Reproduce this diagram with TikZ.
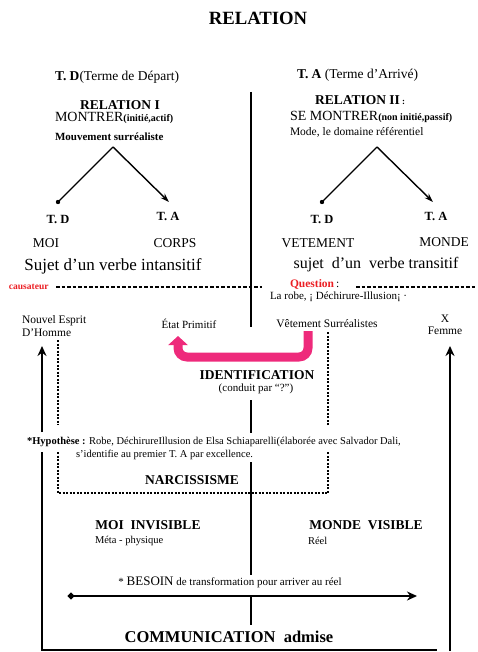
\documentclass[tikz,border=0pt]{standalone}
\usepackage{fontspec}
\setmainfont{Liberation Serif}
\usetikzlibrary{arrows.meta}
\definecolor{hotpink}{RGB}{238,42,123}
\definecolor{redtxt}{RGB}{235,30,35}
\newcommand\fsz[1]{\fontsize{#1}{#1}\selectfont}
\begin{document}
\begin{tikzpicture}[x=1pt,y=-1pt,
  txt/.style={inner sep=0pt,outer sep=0pt},
  lt/.style={txt,anchor=west},
  midline/.style={line width=1.8pt},
  treeline/.style={line width=1.4pt},
  frame/.style={line width=2.8pt},
  dotbox/.style={line width=1.1pt,dash pattern=on 2pt off 1.5pt},
  sepline/.style={line width=1.1pt,dash pattern=on 3.5pt off 2pt},
  pinkarrow/.style={hotpink,line width=9pt,rounded corners=9pt,-{Triangle[length=9pt,width=19pt]}}
]
\useasboundingbox (0,0) rectangle (477,652);

% title and headings
\node[txt,font=\fsz{18.7}\bfseries] (title) at (258,18) {RELATION};
\node[lt,font=\fsz{13.5}] (tdhead) at (55,77) {\textbf{T. D}(Terme de Départ)};
\node[lt,font=\fsz{13.5}] (tahead) at (297,75) {\textbf{T. A} (Terme d’Arrivé)};
\node[txt,font=\fsz{13.5}\bfseries] (rel1) at (120,105) {RELATION I};
\node[lt,font=\fsz{13.5}\bfseries] (rel2) at (315,100) {RELATION II\,{\fsz{9}:}};
\node[lt,font=\fsz{14}] (montrer) at (55,118) {MONTRER{\bfseries\fsz{10}(initié,actif)}};
\node[lt,font=\fsz{14}] (semontrer) at (290,117) {SE MONTRER{\bfseries\fsz{10}(non initié,passif)}};
\node[lt,font=\fsz{11}\bfseries] (mouv) at (55,137) {Mouvement surréaliste};
\node[lt,font=\fsz{11.5}] (mode) at (290,132) {Mode, le domaine référentiel};

% trees
\coordinate (LA) at (113,147);
\coordinate (LD) at (58,202);
\coordinate (LT) at (169,202);
\coordinate (RA) at (377,147);
\coordinate (RD) at (322,202);
\coordinate (RT) at (433,202);
\draw[treeline] (LA) -- (LD);
\draw[treeline,-{Stealth[length=9pt,width=6pt]}] (LA) -- (LT);
\fill (LD) circle (2.2);
\draw[treeline] (RA) -- (RD);
\draw[treeline,-{Stealth[length=9pt,width=6pt]}] (RA) -- (RT);
\fill (RD) circle (2.2);

\node[txt,font=\fsz{12.5}\bfseries] (ltd) at (58,219) {T. D};
\node[txt,font=\fsz{12.5}\bfseries] (lta) at (168,216) {T. A};
\node[txt,font=\fsz{12.5}\bfseries] (rtd) at (322,219) {T. D};
\node[txt,font=\fsz{12.5}\bfseries] (rta) at (436,216) {T. A};
\node[txt,font=\fsz{13.5}] (moi) at (46,243) {MOI};
\node[txt,font=\fsz{13.5}] (corps) at (175,243) {CORPS};
\node[txt,font=\fsz{13.5}] (vet) at (318,243) {VETEMENT};
\node[txt,font=\fsz{13.5}] (monde) at (444,242) {MONDE};
\node[txt,font=\fsz{17}] (suj1) at (113,266) {Sujet d’un verbe intansitif};
\node[txt,font=\fsz{16}] (suj2) at (376,265) {sujet\ \ d’un\ \ verbe transitif};

% separator line
\node[lt,font=\fsz{9.5}\bfseries,text=redtxt] (caus) at (9,287) {causateur};
\node[lt,font=\fsz{11.5}] (quest) at (290,284) {\textcolor{redtxt}{\bfseries Question}\,:};
\coordinate (s1a) at (56,287);
\coordinate (s1b) at (262,287);
\coordinate (s2a) at (356,287);
\coordinate (s2b) at (476,287);
\draw[sepline] (s1a) -- (s1b);
\draw[sepline] (s2a) -- (s2b);
\node[lt,font=\fsz{11}] (robe) at (270,297) {La robe, ¡ Déchirure-Illusion¡ ·};

% center line
\coordinate (c1) at (251,92);
\coordinate (c2) at (251,327);
\coordinate (c3) at (251,400);
\coordinate (c4) at (251,433);
\coordinate (c5) at (251,462);
\coordinate (c6) at (251,575);
\coordinate (c7) at (251,596);
\coordinate (c8) at (251,625);
\draw[midline] (c1) -- (c2);
\draw[midline] (c3) -- (c4);
\draw[midline] (c5) -- (c6);
\draw[midline] (c7) -- (c8);

% middle labels
\node[lt,font=\fsz{11.5},align=left] (nouvel) at (22,326) {Nouvel Esprit\\[1pt]D’Homme};
\node[txt,font=\fsz{11}] (etat) at (189,324) {État Primitif};
\node[txt,font=\fsz{11.5}] (vetsur) at (327,324) {Vêtement Surréalistes};
\node[txt,font=\fsz{11.5},align=center] (xfem) at (445,325) {X\\[1pt]Femme};

% pink arrow
\coordinate (p1) at (308,331);
\coordinate (p2) at (308,357);
\coordinate (p3) at (178,357);
\coordinate (p4) at (178,336);
\draw[pinkarrow] (p1) -- (p2) -- (p3) -- (p4);

\node[txt,font=\fsz{13.5}\bfseries] (ident) at (257,375) {IDENTIFICATION};
\node[txt,font=\fsz{11}] (cond) at (256,389) {(conduit par “?”)};

% dotted box
\coordinate (b1) at (58,340);
\coordinate (b2) at (58,425);
\coordinate (b3) at (58,452);
\coordinate (b4) at (58,493);
\coordinate (b5) at (328,493);
\coordinate (b6) at (328,452);
\coordinate (b7) at (328,425);
\coordinate (b8) at (328,331);
\draw[dotbox] (b1) -- (b2);
\draw[dotbox] (b3) -- (b4) -- (b5) -- (b6);
\draw[dotbox] (b7) -- (b8);

\node[lt,font=\fsz{10.5}] (hyp1) at (27,442) {\textbf{*Hypothèse :} Robe, DéchirureIllusion de Elsa Schiaparelli(élaborée avec Salvador Dali,};
\node[lt,font=\fsz{10.5}] (hyp2) at (76,455) {s’identifie au premier T. A par excellence.};
\node[txt,font=\fsz{13.5}\bfseries] (narc) at (192,480) {NARCISSISME};

% frame arrows
\coordinate (f1) at (42,432);
\coordinate (f2) at (42,346);
\coordinate (f3) at (42,452);
\coordinate (f4) at (42,650);
\coordinate (f5) at (437,650);
\coordinate (f6) at (450,651);
\coordinate (f7) at (450,346);
\draw[frame,-{Stealth[length=10pt,width=9pt]}] (f1) -- (f2);
\draw[frame] (f3) -- (f4) -- (f5);
\draw[frame,-{Stealth[length=10pt,width=9pt]}] (f6) -- (f7);

% lower part
\node[txt,font=\fsz{13.5}\bfseries] (moiinv) at (148,525) {MOI\ \ INVISIBLE};
\node[lt,font=\fsz{10.5}] (meta) at (95,541) {Méta - physique};
\node[txt,font=\fsz{13.5}\bfseries] (mondevis) at (366,525) {MONDE\ \ VISIBLE};
\node[lt,font=\fsz{10.5}] (reel) at (308,541) {Réel};
\node[txt,font=\fsz{11}] (besoin) at (230,582) {* {\fsz{13}BESOIN} de transformation pour arriver au réel};
\coordinate (h1) at (68,596);
\coordinate (h2) at (417,596);
\draw[line width=2.6pt,{Circle[length=6pt]}-{Stealth[length=10pt,width=9pt]}] (h1) -- (h2);
\node[txt,font=\fsz{16.5}\bfseries] (comm) at (229,637) {COMMUNICATION\ \ admise};
\end{tikzpicture}
\end{document}
